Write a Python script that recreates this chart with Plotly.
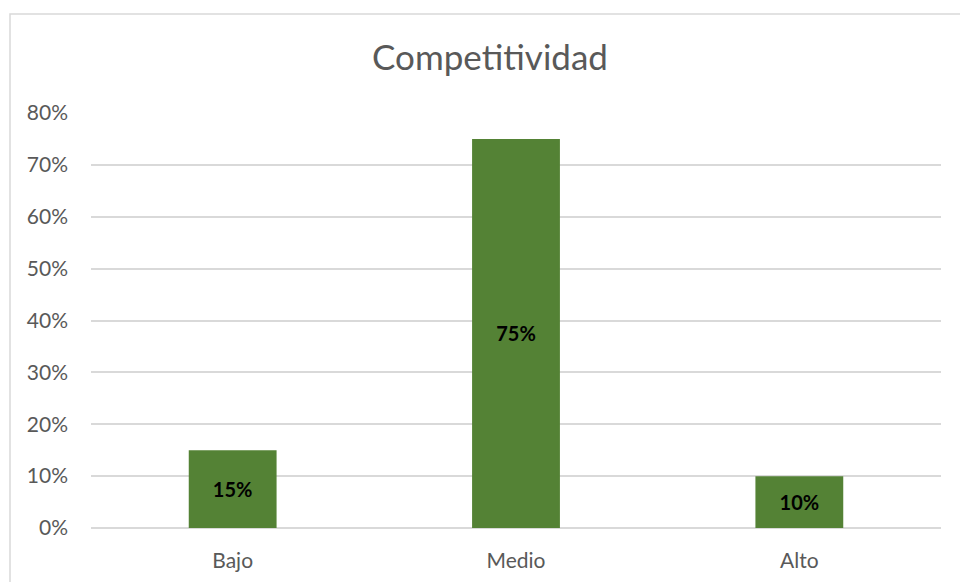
import plotly.graph_objects as go

categories = ["Bajo", "Medio", "Alto"]
values = [0.15, 0.75, 0.10]
labels = ["15%", "75%", "10%"]
tick_vals = [0, 0.1, 0.2, 0.3, 0.4, 0.5, 0.6, 0.7, 0.8]
tick_text = ["0%", "10%", "20%", "30%", "40%", "50%", "60%", "70%", "80%"]

W, H = 960, 582
ml, mr, mt, mb = 91, 19, 113, 54
pw = W - ml - mr
ph = H - mt - mb

fig = go.Figure(go.Bar(
    x=categories, y=values, width=0.31,
    marker=dict(color="#548235", line=dict(width=0)),
    text=labels, textposition="inside", insidetextanchor="middle",
    textangle=0,
    textfont=dict(family="Lato", size=20, color="#000000", weight="bold"),
))

fig.update_layout(
    width=W, height=H,
    margin=dict(l=ml, r=mr, t=mt, b=mb),
    paper_bgcolor="white", plot_bgcolor="white",
    font=dict(family="Lato", color="#595959"),
    title=dict(text="Competitividad", x=490 / W, xref="container", xanchor="center",
               y=1 - 58 / H, yref="container", yanchor="middle",
               font=dict(family="Lato", size=35, color="#595959")),
    showlegend=False,
    bargap=0.69,
)
fig.update_xaxes(showgrid=False, showline=False, ticks="", zeroline=False,
                 automargin=False,
                 tickfont=dict(size=21, color="#595959"), ticklabelstandoff=18)
fig.update_yaxes(range=[0, 0.8], tickvals=tick_vals, ticktext=tick_text,
                 automargin=False,
                 showgrid=True, gridcolor="#d9d9d9", gridwidth=1.5,
                 zeroline=True, zerolinecolor="#d9d9d9", zerolinewidth=1.5,
                 showline=False, ticks="", ticklabelstandoff=22,
                 tickfont=dict(size=21, color="#595959"))

# outer chart border (extends beyond the visible window on right/bottom)
fig.add_shape(type="rect", xref="paper", yref="paper",
              x0=(10 - ml) / pw, x1=(W + 20 - ml) / pw,
              y0=-(mb + 20) / ph, y1=(H - mb - 14) / ph,
              line=dict(color="#d9d9d9", width=1.5), fillcolor="rgba(0,0,0,0)", layer="below")

fig.write_html("out.html")
